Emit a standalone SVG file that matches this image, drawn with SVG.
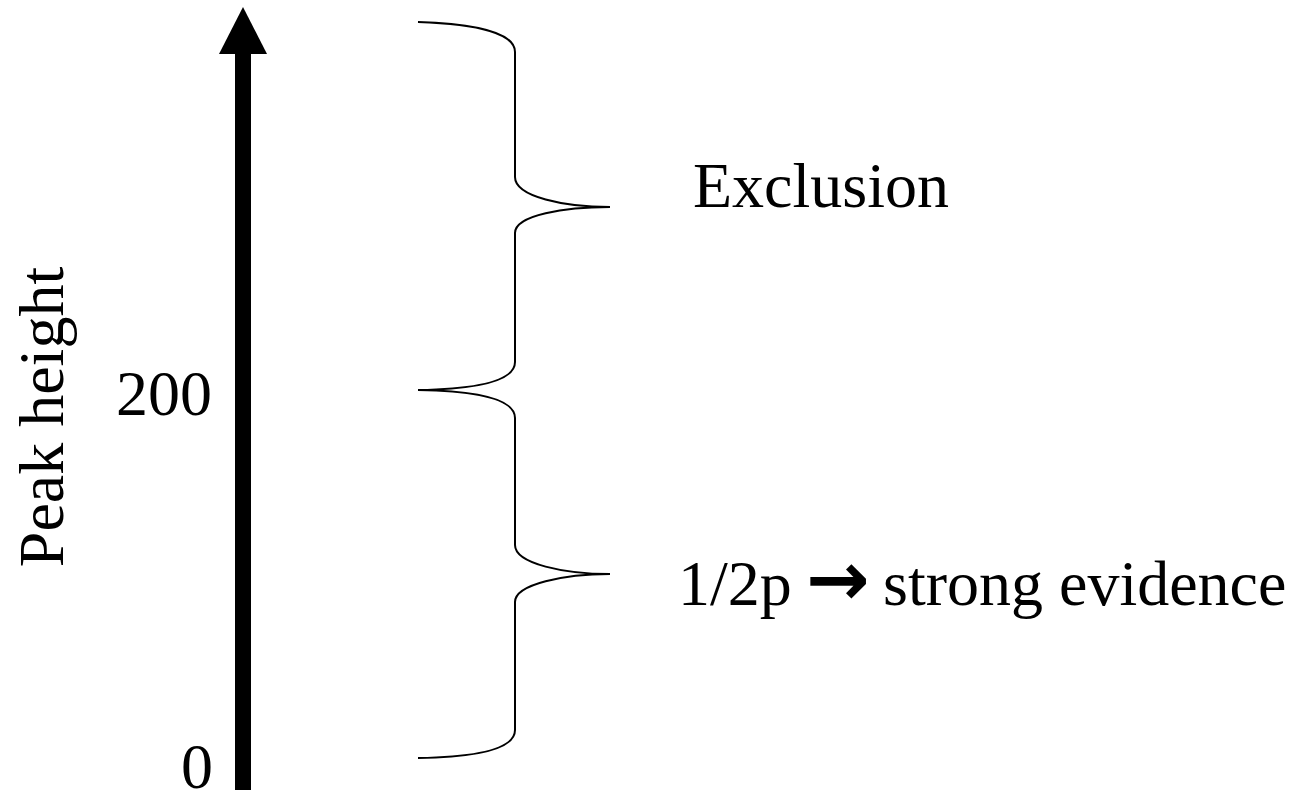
<svg xmlns="http://www.w3.org/2000/svg" width="1296" height="802" viewBox="0 0 1296 802">
<style>
  .lbl { font-family: "Liberation Serif", "Times New Roman", serif; font-size: 64px; fill: #000; }
  .brace { fill: none; stroke: #000; stroke-width: 2; }
  .arr { font-family: "DejaVu Sans", sans-serif; font-weight: bold; font-size: 76px; }
</style>
<rect width="1296" height="802" fill="#fff"/>
<g id="axis">
  <rect x="235" y="53" width="16" height="737" fill="#000"/>
  <polygon points="243,7 267,54 219,54" fill="#000"/>
</g>
<g id="axis-label">
  <text class="lbl" text-anchor="middle" transform="translate(63,417) rotate(-90)">Peak height</text>
</g>
<g id="tick-200">
  <text class="lbl" x="116" y="415">200</text>
</g>
<g id="tick-0">
  <text class="lbl" x="181" y="788">0</text>
</g>
<g id="connectors">
  <path id="brace-upper" class="brace" d="M418,22 C480,24 515,34 515,52 L515,177 C515,197 565,207 610,207 C565,207 515,215 515,233 L515,362 C515,380 480,389 418,390"/>
  <path id="brace-lower" class="brace" d="M418,390 C480,391 515,400 515,418 L515,545 C515,564 565,574 610,574 C565,574 515,584 515,602 L515,730 C515,748 480,757 418,758"/>
</g>
<g id="exclusion">
  <text class="lbl" x="693" y="207">Exclusion</text>
</g>
<g id="strong-evidence">
  <text class="lbl" y="605"><tspan x="678">1/2p</tspan><tspan class="arr" x="806">→</tspan><tspan x="883">strong evidence</tspan></text>
</g>
</svg>
